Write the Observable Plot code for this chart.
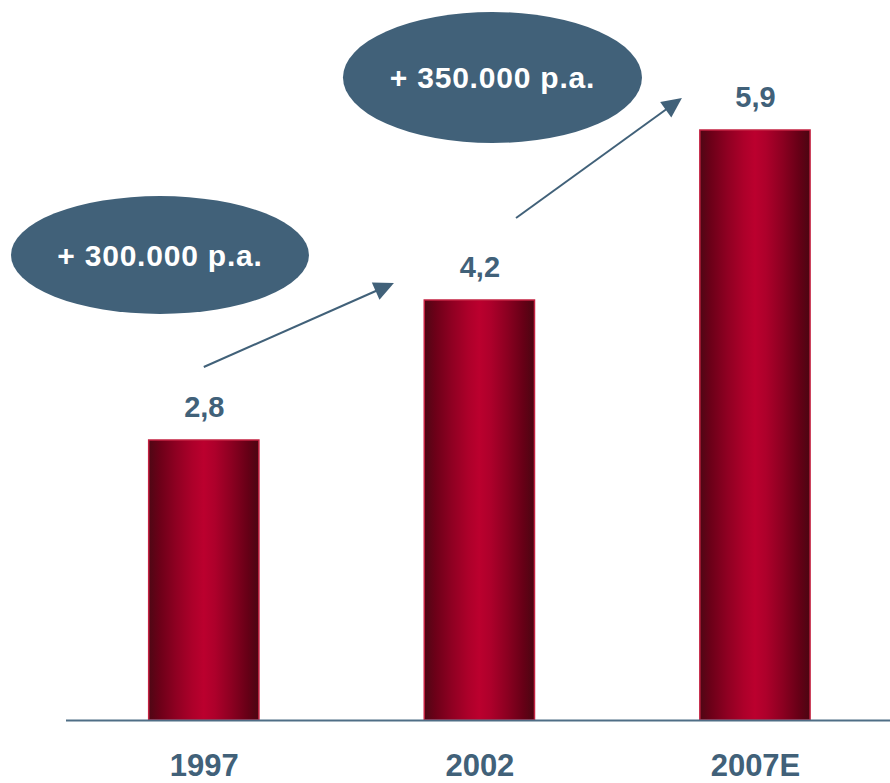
<!DOCTYPE html>
<html><head><meta charset="utf-8">
<script src="https://cdn.jsdelivr.net/npm/d3@7"></script>
<script src="https://cdn.jsdelivr.net/npm/@observablehq/plot@0.6"></script>
<style>html,body{margin:0;background:#fff}#chart svg{display:block}</style>
</head><body><div id="chart"></div>
<script>
// ---- data ----
const years = ["1997", "2002", "2007E"];
const values = [2.8, 4.2, 5.9];
const valueLabels = ["2,8", "4,2", "5,9"];
const growthLabels = ["+ 300.000 p.a.", "+ 350.000 p.a."];

const data = years.map((year, i) => ({i, year, value: values[i], label: valueLabels[i]}));

// ---- annotation layout (data coordinates; sizes in px) ----
const bubbles = [
  {x: -0.159, y: 4.65, rx: 149, ry: 59, text: growthLabels[0]},
  {x: 1.0475, y: 6.425, rx: 149.5, ry: 65.5, text: growthLabels[1]}
];
const arrows = [
  {x1: 0, y1: 3.53, x2: 0.69, y2: 4.37},
  {x1: 1.133, y1: 5.02, x2: 1.735, y2: 6.22}
];

const ink = "#416179";
const font = "'Liberation Sans', Arial, Helvetica, sans-serif";

function gradientDefs() {
  const defs = d3.create("svg:defs");
  const lg = defs.append("linearGradient").attr("id", "barGrad").attr("x1", "0").attr("x2", "1").attr("y1", "0").attr("y2", "0");
  const stops = [[0, "#4e0714"], [0.1, "#6c0018"], [0.25, "#8f0022"], [0.4, "#ad002a"], [0.5, "#bb002e"], [0.6, "#ae002b"], [0.75, "#8c0021"], [0.9, "#660016"], [1, "#4a0611"]];
  for (const [o, c] of stops) lg.append("stop").attr("offset", o).attr("stop-color", c);
  return defs.node();
}

function annotations(index, scales) {
  const {x, y} = scales;
  const g = d3.create("svg:g");
  for (const a of arrows) {
    const X1 = x(a.x1), Y1 = y(a.y1), X2 = x(a.x2), Y2 = y(a.y2);
    const dx = X2 - X1, dy = Y2 - Y1, L = Math.hypot(dx, dy), ux = dx / L, uy = dy / L;
    const hl = 20, hw = 9.5;
    const bx = X2 - ux * hl, by = Y2 - uy * hl;
    g.append("line").attr("x1", X1).attr("y1", Y1).attr("x2", bx + ux * 2).attr("y2", by + uy * 2)
      .attr("stroke", ink).attr("stroke-width", 2);
    g.append("path").attr("d", `M${X2},${Y2}L${bx - uy * hw},${by + ux * hw}L${bx + uy * hw},${by - ux * hw}Z`).attr("fill", ink);
  }
  for (const b of bubbles) {
    const cx = x(b.x), cy = y(b.y);
    g.append("ellipse").attr("cx", cx).attr("cy", cy).attr("rx", b.rx).attr("ry", b.ry).attr("fill", ink);
    g.append("text").attr("x", cx).attr("y", cy).attr("dy", "0.35em").attr("text-anchor", "middle")
      .attr("fill", "white").attr("font-size", 30).attr("font-weight", "bold").attr("font-family", font)
      .attr("letter-spacing", "0.8px").text(b.text);
  }
  return g.node();
}

const chart = Plot.plot({
  width: 890,
  height: 783,
  marginLeft: 66,
  marginRight: 0,
  marginTop: 20,
  marginBottom: 63,
  style: {fontFamily: font, background: "white"},
  x: {domain: [-0.5, 2.49], axis: null},
  y: {domain: [0, 7], axis: null},
  marks: [
    gradientDefs,
    Plot.rect(data, {x1: d => d.i - 0.2, x2: d => d.i + 0.2, y1: 0, y2: "value", fill: "url(#barGrad)", stroke: "#c42242", strokeWidth: 1.5}),
    Plot.ruleY([0], {stroke: "#4f6e86", strokeWidth: 2}),
    Plot.text(data, {x: "i", y: "value", text: "label", dy: -33, lineAnchor: "middle", fill: ink, fontSize: 29, fontWeight: "bold"}),
    Plot.text(data, {x: "i", y: () => 0, text: "year", dy: 46, lineAnchor: "middle", fill: ink, fontSize: 31, fontWeight: "bold"}),
    annotations
  ]
});
document.getElementById("chart").append(chart);
</script>
</body></html>
